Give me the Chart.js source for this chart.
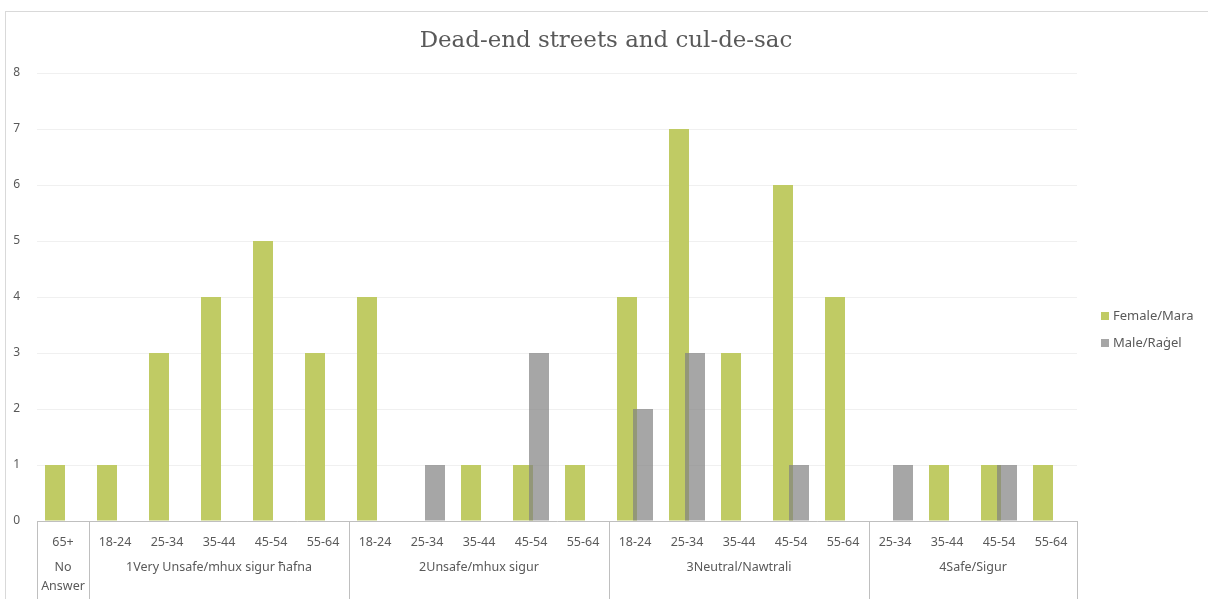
<!DOCTYPE html>
<html>
<head>
<meta charset="utf-8">
<script src="https://cdn.jsdelivr.net/npm/chart.js@4/dist/chart.umd.min.js"></script>
<style>
    html, body { margin: 0; padding: 0; background: #fff; overflow: hidden; }
    #frame { position: absolute; left: 5px; top: 11px; width: 1220px; height: 610px; border: 1px solid #d9d9d9; }
    #wrap { position: absolute; left: 0; top: 0; width: 1208px; height: 599px; }
</style>
</head>
<body>
<div id="frame"></div>
<div id="wrap"><canvas id="chart"></canvas></div>
<script>
const ageLabels = ['65+', '18-24', '25-34', '35-44', '45-54', '55-64', '18-24', '25-34', '35-44', '45-54', '55-64',
    '18-24', '25-34', '35-44', '45-54', '55-64', '25-34', '35-44', '45-54', '55-64'];
const groupNames = [['No', 'Answer'], ['1Very Unsafe/mhux sigur ħafna'], ['2Unsafe/mhux sigur'], ['3Neutral/Nawtrali'], ['4Safe/Sigur']];
const groupSizes = [1, 5, 5, 5, 4];
const femaleValues = [1, 1, 3, 4, 5, 3, 4, 0, 1, 1, 1, 4, 7, 3, 6, 4, 0, 1, 1, 1];
const maleValues = [0, 0, 0, 0, 0, 0, 0, 1, 0, 3, 0, 2, 3, 0, 1, 0, 1, 0, 1, 0];
const yTicks = [0, 1, 2, 3, 4, 5, 6, 7, 8];
const seriesNames = ['Female/Mara', 'Male/Raġel'];
const chartTitle = 'Dead-end streets and cul-de-sac';

const FONT = '"Noto Sans", "Liberation Sans", sans-serif';
const TITLE_FONT = '"DejaVu Serif", serif';
const TEXT = '#595959';
const LINE = '#bfbfbf';
const colors = ['rgb(192, 203, 100)', 'rgba(128, 128, 128, 0.7)'];

// male bars are drawn after female ones so the overlap shows grey on top
const maleOnTop = {
    id: 'maleOnTop',
    beforeDatasetDraw(chart, args) {
        if (args.index === 1) return false;
    },
    afterDatasetsDraw(chart) {
        const ctx = chart.ctx;
        const area = chart.chartArea;
        ctx.save();
        ctx.beginPath();
        ctx.rect(area.left, area.top, area.right - area.left, area.bottom - area.top);
        ctx.clip();
        chart.getDatasetMeta(1).controller.draw();
        ctx.restore();
    }
};

// title over the full width, second row of x labels, separators, legend
const decorations = {
    id: 'decorations',
    afterDraw(chart) {
        const ctx = chart.ctx;
        const x = chart.scales.x;
        const half = (x.getPixelForValue(1) - x.getPixelForValue(0)) / 2;
        const top = chart.chartArea.bottom;
        const bottom = chart.height;
        ctx.save();

        // title, sized to span the same width as the original
        ctx.font = '24px ' + TITLE_FONT;
        const size = 24 * 373 / ctx.measureText(chartTitle).width;
        ctx.font = size.toFixed(2) + 'px ' + TITLE_FONT;
        ctx.fillStyle = TEXT;
        ctx.textAlign = 'center';
        ctx.textBaseline = 'middle';
        ctx.fillText(chartTitle, 606, 41);

        ctx.strokeStyle = LINE;
        ctx.lineWidth = 1;
        let start = 0;
        const edges = [x.getPixelForValue(0) - half];
        ctx.font = '12.5px ' + FONT;
        groupSizes.forEach((n, g) => {
            const end = start + n - 1;
            const left = x.getPixelForValue(start) - half;
            const right = x.getPixelForValue(end) + half;
            edges.push(right);
            groupNames[g].forEach((line, i) => {
                ctx.fillText(line, (left + right) / 2, 567 + i * 19);
            });
            start = end + 1;
        });
        edges.forEach(px => {
            const p = Math.round(px) + 0.5;
            ctx.beginPath();
            ctx.moveTo(p, top);
            ctx.lineTo(p, bottom);
            ctx.stroke();
        });

        // legend
        ctx.font = '13px ' + FONT;
        ctx.textAlign = 'left';
        seriesNames.forEach((name, i) => {
            const y = 316 + i * 27;
            ctx.fillStyle = i === 0 ? colors[0] : 'rgb(166, 166, 166)';
            ctx.fillRect(1101, y - 4, 8, 8);
            ctx.fillStyle = TEXT;
            ctx.fillText(name, 1113, y);
        });
        ctx.restore();
    }
};

new Chart(document.getElementById('chart'), {
    type: 'bar',
    data: {
        labels: ageLabels,
        datasets: [{
            label: seriesNames[0],
            data: femaleValues,
            backgroundColor: colors[0],
            borderWidth: 0
        }, {
            label: seriesNames[1],
            data: maleValues,
            backgroundColor: colors[1],
            borderWidth: 0
        }]
    },
    options: {
        responsive: true,
        maintainAspectRatio: false,
        animation: false,
        categoryPercentage: 32 / 52,
        barPercentage: 1.25,
        layout: {
            padding: { top: 73, right: 131, left: 0, bottom: 0 }
        },
        plugins: {
            legend: { display: false },
            tooltip: { enabled: false },
            title: { display: false }
        },
        scales: {
            x: {
                grid: { display: false },
                border: { display: true, color: LINE, width: 1 },
                ticks: {
                    color: TEXT,
                    font: { family: FONT, size: 12.5 },
                    maxRotation: 0,
                    autoSkip: false,
                    padding: 6
                },
                afterFit(scale) { scale.height = 78; }
            },
            y: {
                min: 0,
                max: yTicks[yTicks.length - 1],
                afterBuildTicks(scale) { scale.ticks = yTicks.map(v => ({ value: v })); },
                grid: { color: '#f0f0f0', drawTicks: false },
                border: { display: false },
                ticks: {
                    color: TEXT,
                    font: { family: FONT, size: 12 },
                    padding: 17
                },
                afterFit(scale) { scale.width = 37; }
            }
        }
    },
    plugins: [maleOnTop, decorations]
});
</script>
</body>
</html>
